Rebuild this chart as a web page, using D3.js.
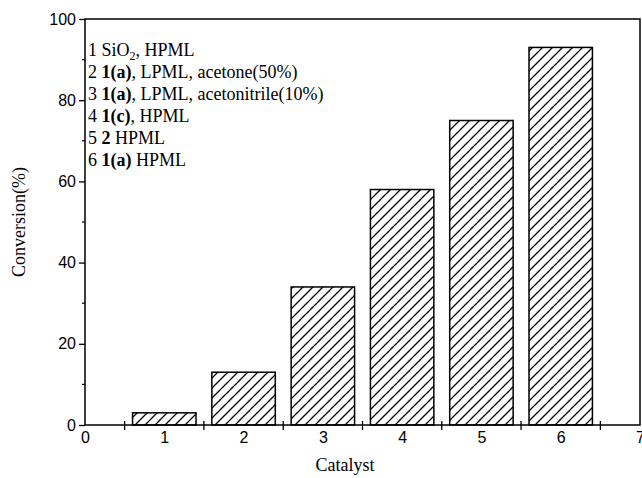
<!DOCTYPE html>
<html>
<head>
<meta charset="utf-8">
<script src="https://cdnjs.cloudflare.com/ajax/libs/d3/7.8.5/d3.min.js"></script>
<style>
  body { margin: 0; background: #fff; }
  svg { display: block; }
</style>
</head>
<body>
<svg id="chart"></svg>
<script>
// data
var catalysts = [1, 2, 3, 4, 5, 6];
var conversion = [3, 13, 34, 58, 75, 93];
var xTicks = [0, 1, 2, 3, 4, 5, 6, 7];
var yTicks = [0, 20, 40, 60, 80, 100];
// legend lines: [text, style] pieces
var legendLines = [
  [["1 SiO", "n"], ["2", "sub"], [", HPML", "n"]],
  [["2 ", "n"], ["1(a)", "b"], [", LPML, acetone(50%)", "n"]],
  [["3 ", "n"], ["1(a)", "b"], [", LPML, acetonitrile(10%)", "n"]],
  [["4 ", "n"], ["1(c)", "b"], [", HPML", "n"]],
  [["5 ", "n"], ["2", "b"], [" HPML", "n"]],
  [["6 ", "n"], ["1(a)", "b"], [" HPML", "n"]]
];

var width = 642, height = 478;
var mLeft = 85, mRight = 640, mTop = 19, mBottom = 425;

var svg = d3.select("#chart").attr("width", width).attr("height", height);

var x = d3.scaleLinear().domain([0, 7]).range([mLeft, mRight]);
var y = d3.scaleLinear().domain([0, 100]).range([mBottom, mTop]);

// hatch pattern
var defs = svg.append("defs");
var pat = defs.append("pattern")
    .attr("id", "hatch")
    .attr("patternUnits", "userSpaceOnUse")
    .attr("width", 10)
    .attr("height", 10);
pat.append("rect").attr("width", 10).attr("height", 10).attr("fill", "#fff");
pat.append("path")
    .attr("d", "M-2,2 L2,-2 M0,10 L10,0 M8,12 L12,8")
    .attr("stroke", "#000")
    .attr("stroke-width", 1.3);

// bars
svg.selectAll("rect.bar")
    .data(catalysts)
    .enter()
    .append("rect")
    .attr("class", "bar")
    .attr("x", function(d) { return x(d - 0.4); })
    .attr("width", function(d) { return x(d + 0.4) - x(d - 0.4); })
    .attr("y", function(d, i) { return y(conversion[i]); })
    .attr("height", function(d, i) { return y(0) - y(conversion[i]); })
    .attr("fill", "url(#hatch)")
    .attr("stroke", "#000")
    .attr("stroke-width", 1.5);

// frame
svg.append("rect")
    .attr("x", mLeft).attr("y", mTop)
    .attr("width", mRight - mLeft).attr("height", mBottom - mTop)
    .attr("fill", "none")
    .attr("stroke", "#000")
    .attr("stroke-width", 1.5);

// y axis
var yAxis = svg.append("g")
    .attr("transform", "translate(" + mLeft + ",0)")
    .call(d3.axisLeft(y).tickValues(yTicks).tickSize(6).tickPadding(3));
yAxis.select(".domain").remove();
yAxis.selectAll("text")
    .attr("font-family", "'Liberation Sans', Arial, sans-serif")
    .attr("font-size", 16)
    .attr("fill", "#000");
yAxis.selectAll("line").attr("stroke-width", 1.3);

svg.append("g")
    .selectAll("line")
    .data([10, 30, 50, 70, 90])
    .enter()
    .append("line")
    .attr("x1", mLeft - 3).attr("x2", mLeft)
    .attr("y1", function(d) { return y(d); })
    .attr("y2", function(d) { return y(d); })
    .attr("stroke", "#000")
    .attr("stroke-width", 1.2);

// x axis: labels at integers, ticks at half units
var xAxis = svg.append("g")
    .attr("transform", "translate(0," + mBottom + ")")
    .call(d3.axisBottom(x).tickValues(xTicks).tickFormat(d3.format("d")).tickSize(0).tickPadding(7));
xAxis.select(".domain").remove();
xAxis.selectAll("text")
    .attr("font-family", "'Liberation Sans', Arial, sans-serif")
    .attr("font-size", 16)
    .attr("fill", "#000");

svg.append("g")
    .selectAll("line")
    .data([0.5, 1.5, 2.5, 3.5, 4.5, 5.5, 6.5])
    .enter()
    .append("line")
    .attr("x1", function(d) { return x(d); })
    .attr("x2", function(d) { return x(d); })
    .attr("y1", mBottom - 4).attr("y2", mBottom + 5)
    .attr("stroke", "#000")
    .attr("stroke-width", 1.3);

// axis titles
svg.append("text")
    .attr("x", 345)
    .attr("y", 471)
    .attr("text-anchor", "middle")
    .attr("font-family", "'Liberation Serif', 'Times New Roman', serif")
    .attr("font-size", 18)
    .text("Catalyst");

svg.append("text")
    .attr("transform", "translate(25,222)rotate(-90)")
    .attr("text-anchor", "middle")
    .attr("font-family", "'Liberation Serif', 'Times New Roman', serif")
    .attr("font-size", 18)
    .text("Conversion(%)");

// legend text
var legend = svg.append("g")
    .attr("font-family", "'Liberation Serif', 'Times New Roman', serif")
    .attr("font-size", 18);

legendLines.forEach(function(line, i) {
    var t = legend.append("text")
        .attr("x", 88)
        .attr("y", 56 + i * 22);
    line.forEach(function(p, j) {
        var ts = t.append("tspan").text(p[0]);
        if (p[1] == "b") ts.attr("font-weight", "bold");
        if (p[1] == "sub") ts.attr("font-size", 12).attr("dy", 4);
        else if (j > 0 && line[j - 1][1] == "sub") ts.attr("dy", -4);
    });
});
</script>
</body>
</html>
